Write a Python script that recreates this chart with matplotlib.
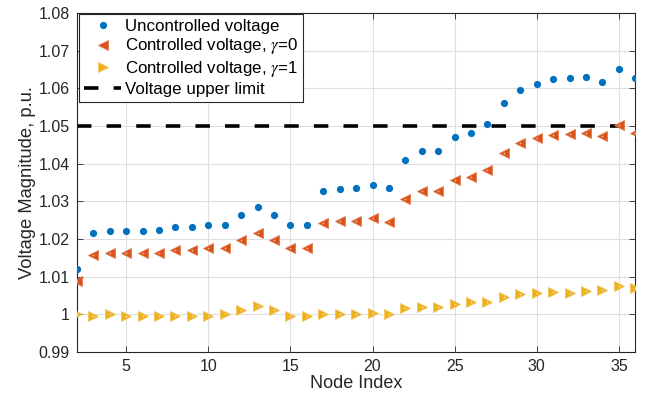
import numpy as np
import matplotlib
matplotlib.use("Agg")
from matplotlib import pyplot as plt

plt.rcParams.update({
    "font.family": ["Liberation Sans", "DejaVu Sans"],
    "font.size": 11.5,
    "mathtext.fontset": "stix",
})

nodes = np.arange(2, 37)

v_unctrl = [1.0121, 1.0215, 1.0220, 1.0220, 1.0220, 1.0224, 1.0231, 1.0232, 1.0238,
            1.0238, 1.0263, 1.0285, 1.0263, 1.0238, 1.0238, 1.0327, 1.0333, 1.0335,
            1.0343, 1.0335, 1.0409, 1.0434, 1.0434, 1.0471, 1.0480, 1.0504, 1.0561,
            1.0595, 1.0612, 1.0625, 1.0626, 1.0630, 1.0616, 1.0651, 1.0626]

v_gamma0 = [1.0088, 1.0158, 1.0163, 1.0163, 1.0163, 1.0164, 1.0170, 1.0170, 1.0177,
            1.0177, 1.0198, 1.0217, 1.0198, 1.0177, 1.0177, 1.0242, 1.0247, 1.0249,
            1.0255, 1.0246, 1.0307, 1.0327, 1.0327, 1.0356, 1.0364, 1.0382, 1.0428,
            1.0455, 1.0467, 1.0477, 1.0478, 1.0481, 1.0473, 1.0502, 1.0481]

v_gamma1 = [1.0000, 0.9996, 1.0000, 0.9997, 0.9997, 0.9997, 0.9997, 0.9997, 0.9996,
            1.0000, 1.0011, 1.0023, 1.0011, 0.9997, 0.9997, 1.0000, 1.0000, 1.0002,
            1.0004, 1.0000, 1.0017, 1.0020, 1.0020, 1.0027, 1.0033, 1.0034, 1.0045,
            1.0053, 1.0057, 1.0059, 1.0058, 1.0063, 1.0066, 1.0075, 1.0071]

v_limit = 1.05

fig = plt.figure(figsize=(6.57, 4.01), dpi=100)
ax = fig.add_axes([0.117, 0.122, 0.850, 0.846])

ax.plot(nodes, v_unctrl, ls="none", marker="o", markersize=5.2, color="#0072BD",
        markeredgewidth=0, label="Uncontrolled voltage", zorder=3)
ax.plot(nodes, v_gamma0, ls="none", marker="<", markersize=7.2, color="#D95319",
        markeredgecolor="#E47A4E", markeredgewidth=0.6,
        label=r"Controlled voltage, $\gamma$=0", zorder=3)
ax.plot(nodes, v_gamma1, ls="none", marker=">", markersize=7.2, color="#EDB120",
        markeredgecolor="#F2C55A", markeredgewidth=0.6,
        label=r"Controlled voltage, $\gamma$=1", zorder=3)
# small light centre dots seen on the triangle markers
ax.plot(nodes, v_gamma0, ls="none", marker="o", markersize=1.2, markeredgewidth=0,
        color="#F4C2AC", zorder=4)
ax.plot(nodes, v_gamma1, ls="none", marker="o", markersize=1.2, markeredgewidth=0,
        color="#FAE3B0", zorder=4)
ax.axhline(v_limit, color="black", lw=2.6, ls=(0, (4.0, 4.2)),
           label="Voltage upper limit", zorder=2)

ax.set_xlim(2, 36)
ax.set_ylim(0.99, 1.08)
ax.set_xticks(np.arange(5, 36, 5))
yt = np.round(np.arange(0.99, 1.0801, 0.01), 2)
ax.set_yticks(yt)
ax.set_yticklabels([f"{v:g}" for v in yt])

ax.grid(True, color="#DFDFDF", lw=0.8)
ax.set_axisbelow(True)
ax.tick_params(direction="in", top=True, right=True, length=4, width=0.6,
               colors="#262626", labelsize=11.5, pad=5)
for s in ax.spines.values():
    s.set_linewidth(0.8)
    s.set_color("#262626")

ax.set_xlabel("Node Index", fontsize=13, color="#262626", labelpad=1)
ax.set_ylabel("Voltage Magnitude, p.u.", fontsize=13.2, color="#262626", labelpad=2)

leg = ax.legend(loc="upper left", bbox_to_anchor=(0.004, 0.997), fancybox=False,
                edgecolor="#262626", framealpha=1, handlelength=2.2,
                handletextpad=0.2, borderpad=0.3, labelspacing=0.15,
                borderaxespad=0.0, fontsize=12.2)
leg.get_frame().set_linewidth(0.8)

fig.savefig("out.png", dpi=100)
